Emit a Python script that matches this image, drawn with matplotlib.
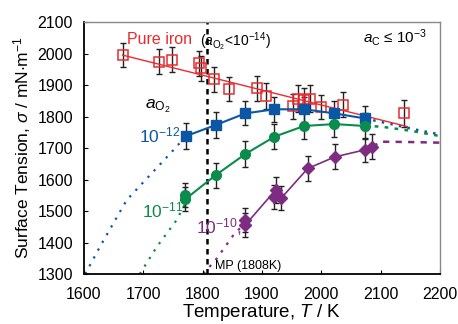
"""Surface tension of liquid iron vs temperature at several oxygen activities."""

import matplotlib

matplotlib.use("Agg")
import matplotlib.pyplot as plt
import numpy as np

plt.rcParams["font.family"] = ["Liberation Sans", "DejaVu Sans"]
plt.rcParams["mathtext.fontset"] = "custom"
plt.rcParams["mathtext.rm"] = "Liberation Sans"
plt.rcParams["mathtext.it"] = "Liberation Sans:italic"

RED = "#ec2a2f"
BLUE = "#0b57a6"
GREEN = "#0a8c4c"
PURPLE = "#7e2b82"

# pure iron (open squares)
fe_T = [1665, 1726, 1749, 1794, 1797, 1819, 1845, 1891, 1906, 1953, 1961, 1970, 1981, 2000, 2036, 2140]
fe_s = [1995, 1974, 1981, 1969, 1953, 1918, 1886, 1889, 1865, 1833, 1857, 1852, 1857, 1831, 1837, 1810]
fe_err = [38, 39, 40, 40, 40, 40, 38, 40, 40, 40, 42, 40, 42, 38, 40, 42]
fe_fit_T = [1665, 2145]
fe_fit_s = [1995, 1768]

# aO2 = 1e-12
o12_T = [1772, 1822, 1872, 1921, 1971, 2022, 2073]
o12_s = [1738, 1773, 1810, 1823, 1823, 1810, 1794]
o12_err = [42, 40, 38, 40, 40, 38, 38]
o12_lo_T = [1602, 1627, 1672, 1751, 1772]
o12_lo_s = [1300, 1387, 1535, 1694, 1738]
o12_hi_T = [2073, 2120, 2160, 2200]
o12_hi_s = [1794, 1775, 1758, 1743]

# aO2 = 1e-11
o11_T = [1771, 1771, 1822, 1872, 1921, 1971, 2022, 2073]
o11_s = [1550, 1538, 1614, 1681, 1736, 1770, 1776, 1770]
o11_err = [38, 38, 40, 40, 40, 40, 40, 40]
o11_lo_T = [1694, 1723, 1756, 1771]
o11_lo_s = [1300, 1387, 1471, 1525]
o11_hi_T = [2073, 2100, 2150, 2200]
o11_hi_s = [1770, 1768, 1755, 1738]

# aO2 = 1e-10
o10_T = [1872, 1872, 1923, 1920, 1932, 1977, 2023, 2073, 2085]
o10_s = [1471, 1456, 1567, 1545, 1540, 1635, 1672, 1694, 1704]
o10_err = [38, 38, 40, 38, 38, 40, 40, 38, 40]
o10_lo_T = [1801, 1824, 1852, 1872]
o10_lo_s = [1300, 1350, 1424, 1463]
o10_hi_T = [2085, 2102, 2150, 2200]
o10_hi_s = [1704, 1720, 1719, 1717]

fig = plt.figure(figsize=(4.58, 3.24), dpi=100)
ax = fig.add_axes([0.1834, 0.1543, 0.7773, 0.7777])

eb = dict(fmt="none", ecolor="#222222", elinewidth=1.0, capsize=2.5, capthick=1.0, zorder=2)

# pure iron
ax.plot(fe_fit_T, fe_fit_s, color=RED, lw=1.0, zorder=3)
ax.errorbar(fe_T, fe_s, yerr=fe_err, **eb)
ax.plot(fe_T, fe_s, ls="none", marker="s", ms=7, mfc="none", mec=RED, mew=1.1, zorder=4)

# 1e-12
ax.plot(o12_lo_T, o12_lo_s, color=BLUE, lw=1.6, ls=(0, (1, 3)), zorder=1)
ax.plot(o12_hi_T, o12_hi_s, color=BLUE, lw=1.8, ls=(0, (1, 2.5)), zorder=1)
ax.errorbar(o12_T, o12_s, yerr=o12_err, **eb)
ax.plot(o12_T, o12_s, color=BLUE, lw=1.5, marker="s", ms=7, zorder=4)

# 1e-11
ax.plot(o11_lo_T, o11_lo_s, color=GREEN, lw=1.6, ls=(0, (1, 3)), zorder=1)
ax.plot(o11_hi_T, o11_hi_s, color=GREEN, lw=1.8, ls=(0, (1.5, 2.5)), zorder=1)
ax.errorbar(o11_T, o11_s, yerr=o11_err, **eb)
ax.plot(o11_T, o11_s, color=GREEN, lw=1.5, marker="o", ms=7, zorder=4)

# 1e-10
ax.plot(o10_lo_T, o10_lo_s, color=PURPLE, lw=1.6, ls=(0, (1.2, 3)), zorder=1)
ax.plot(o10_hi_T, o10_hi_s, color=PURPLE, lw=1.8, ls=(0, (2.5, 2.5)), zorder=1)
ax.errorbar(o10_T, o10_s, yerr=o10_err, **eb)
ax.plot(o10_T, o10_s, color=PURPLE, lw=1.2, marker="D", ms=6, zorder=4)

# melting point
ax.axvline(1808, color="black", lw=1.8, ls=(0, (2.2, 1.8)), zorder=2)

ax.set_xlim(1600, 2200)
ax.set_ylim(1300, 2100)
ax.set_xticks(np.arange(1600, 2201, 100))
ax.set_yticks(np.arange(1300, 2101, 100))
ax.tick_params(direction="in", length=3, labelsize=11.5)
ax.tick_params(axis="x", pad=9)
ax.tick_params(axis="y", pad=8)
for side in ("top", "right"):
    ax.spines[side].set_color("#888888")
    ax.spines[side].set_linewidth(1.0)
for side in ("left", "bottom"):
    ax.spines[side].set_color("black")
    ax.spines[side].set_linewidth(1.3)

ax.set_xlabel("Temperature, $\\it{T}$ / K", fontsize=13.5, labelpad=0)
ax.set_ylabel("Surface Tension, $\\sigma$ / mN$\\cdot$m$^{-1}$", fontsize=12.5, labelpad=3)

ax.text(1673, 2043, "Pure iron", color=RED, fontsize=11.5, va="center")
ax.text(1796, 2038, "($a_{\\rm O_2}$<10$^{-14}$)", fontsize=10, va="center")
ax.text(2178, 2050, "$a_{\\rm C}$ ≤ 10$^{-3}$", fontsize=11, ha="right", va="center")
ax.text(1702, 1832, "$a_{\\rm O_2}$", fontsize=12.5, va="center")
ax.text(1692, 1740, "10$^{-12}$", color=BLUE, fontsize=12.5, va="center")
ax.text(1697, 1503, "10$^{-11}$", color=GREEN, fontsize=12.5, va="center")
ax.text(1789, 1450, "10$^{-10}$,", color=PURPLE, fontsize=12.5, va="center")
ax.text(1820, 1327, "MP (1808K)", fontsize=9, va="center")

fig.savefig("out.png", dpi=100)
plt.close(fig)
